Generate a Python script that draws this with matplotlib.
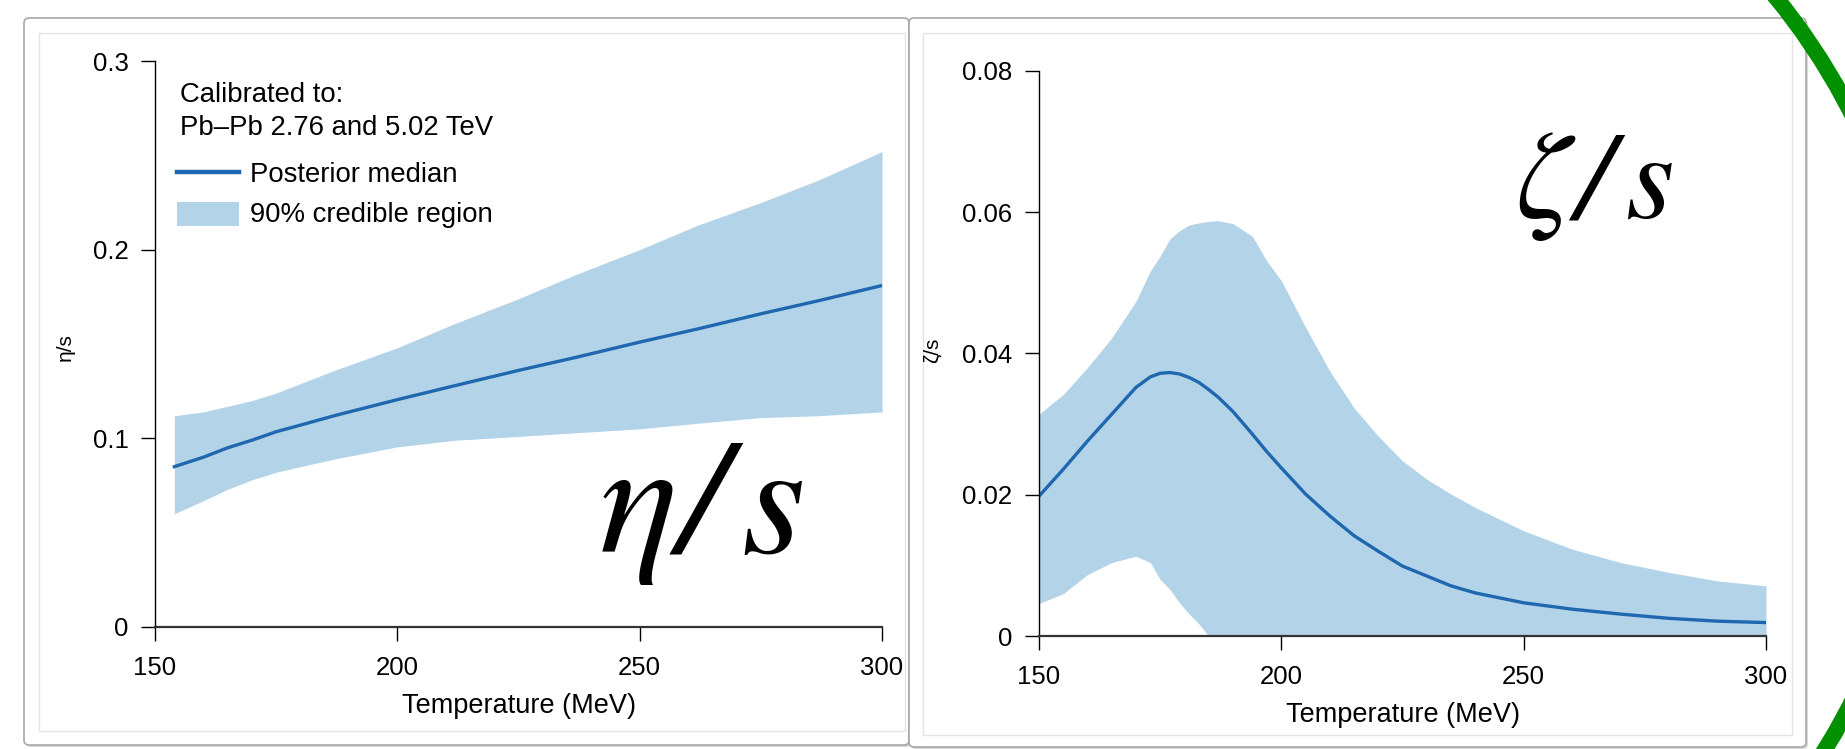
import matplotlib
matplotlib.use("Agg")
import matplotlib.pyplot as plt
import matplotlib.transforms as mtransforms
from matplotlib.patches import FancyBboxPatch, Arc, Rectangle
from matplotlib.lines import Line2D

plt.rcParams['font.family'] = ['Liberation Sans', 'DejaVu Sans']

# eta/s panel
eta_T = [154, 160, 165, 170, 175, 180, 187, 200, 212, 225, 237, 250, 262, 275, 287, 300]
eta_med = [0.085, 0.090, 0.095, 0.099, 0.1035, 0.107, 0.112, 0.1205, 0.128, 0.136,
           0.143, 0.151, 0.158, 0.166, 0.173, 0.181]
eta_hi = [0.112, 0.114, 0.117, 0.120, 0.124, 0.129, 0.136, 0.148, 0.161, 0.174,
          0.187, 0.200, 0.213, 0.225, 0.237, 0.252]
eta_lo = [0.060, 0.067, 0.073, 0.078, 0.082, 0.085, 0.089, 0.0955, 0.099, 0.101,
          0.103, 0.105, 0.108, 0.111, 0.112, 0.114]

# zeta/s panel
zeta_T = [150, 155, 160, 165, 170, 173, 175, 177, 179, 181, 183, 185, 187, 190, 194,
          197, 200, 205, 210, 215, 220, 225, 230, 235, 240, 250, 260, 270, 280, 290, 300]
zeta_med = [0.0198, 0.0236, 0.0276, 0.0314, 0.0352, 0.0367, 0.0372, 0.0373, 0.0371,
            0.0366, 0.0359, 0.0349, 0.0338, 0.0318, 0.0286, 0.0261, 0.0238, 0.0201,
            0.0170, 0.0142, 0.0120, 0.0099, 0.0085, 0.0071, 0.0061, 0.0047, 0.0038,
            0.0031, 0.0025, 0.0021, 0.0019]
zeta_hi = [0.0314, 0.0342, 0.0380, 0.0422, 0.0474, 0.0517, 0.0538, 0.0562, 0.0574,
           0.0582, 0.0585, 0.0587, 0.0588, 0.0584, 0.0566, 0.0531, 0.0503, 0.0437,
           0.0375, 0.0323, 0.0283, 0.0248, 0.0222, 0.0201, 0.0182, 0.0149, 0.0123,
           0.0104, 0.0090, 0.0078, 0.0071]
zeta_lo = [0.0046, 0.0060, 0.0087, 0.0104, 0.0113, 0.0104, 0.0080, 0.0066, 0.0047,
           0.0031, 0.0017, 0.0, 0.0, 0.0, 0.0, 0.0, 0.0, 0.0, 0.0, 0.0, 0.0, 0.0,
           0.0, 0.0, 0.0, 0.0, 0.0, 0.0, 0.0, 0.0, 0.0]

x_ticks = [150, 200, 250, 300]
eta_yticks = [0, 0.1, 0.2, 0.3]
eta_ylabels = ['0', '0.1', '0.2', '0.3']
zeta_yticks = [0, 0.02, 0.04, 0.06, 0.08]
zeta_ylabels = ['0', '0.02', '0.04', '0.06', '0.08']

band_color = '#b3d3e8'
line_color = '#1f68b0'

W, H = 1845, 749
fig = plt.figure(figsize=(W / 100, H / 100), dpi=100)
fig.patch.set_facecolor('white')

# pixel transform (origin top-left)
px = mtransforms.Affine2D().scale(1.0 / W, -1.0 / H).translate(0, 1) + fig.transFigure


def card(x0, y0, x1, y1, ix0, iy0, ix1, iy1, z):
    shadow = FancyBboxPatch((x0 + 2, y0 + 2), x1 - x0, y1 - y0,
                            boxstyle="round,pad=0,rounding_size=5",
                            transform=px, fc='#d8d8d8', ec='none', zorder=z)
    box = FancyBboxPatch((x0, y0), x1 - x0, y1 - y0,
                         boxstyle="round,pad=0,rounding_size=5",
                         transform=px, fc='white', ec='#a8a8a8', lw=1.2, zorder=z + 0.1)
    inner = Rectangle((ix0, iy0), ix1 - ix0, iy1 - iy0, transform=px,
                      fc='white', ec='#e4e4e4', lw=1.0, zorder=z + 0.2)
    for p in (shadow, box, inner):
        fig.patches.append(p)


card(24, 18, 909, 745, 39, 33, 905, 731, 0)
card(909, 18, 1806, 747, 923, 33, 1792, 735, 1)

# green decoration
fig.patches.append(Arc((1272, 408), 1300, 1300, theta1=-42, theta2=45,
                       transform=px, color='#009000', lw=11.5, zorder=5))


def style_axes(ax):
    for s in ('top', 'right'):
        ax.spines[s].set_visible(False)
    ax.spines['left'].set_linewidth(1.0)
    ax.spines['bottom'].set_linewidth(1.6)
    ax.spines['bottom'].set_color('#333333')
    ax.tick_params(axis='both', direction='out', length=10, width=1.0,
                   labelsize=18.5, colors='black')
    ax.tick_params(axis='y', pad=9)
    ax.tick_params(axis='x', pad=11)
    ax.set_xlim(150, 300)
    ax.set_xticks(x_ticks)
    ax.set_xlabel('Temperature (MeV)', fontsize=19.5, labelpad=9)
    ax.patch.set_alpha(0)


# left panel
ax1 = fig.add_axes([155 / W, 1 - 627 / H, 727 / W, 566 / H], zorder=2)
ax1.fill_between(eta_T, eta_lo, eta_hi, color=band_color, lw=0)
ax1.plot(eta_T, eta_med, color=line_color, lw=2.4)
ax1.set_ylim(0, 0.3)
ax1.set_yticks(eta_yticks)
ax1.set_yticklabels(eta_ylabels)
style_axes(ax1)
ax1.set_ylabel('η/s', fontsize=15)
ax1.yaxis.set_label_coords(-0.110, 0.495)

# legend block
leg_fs = 19.8
fig.text(180, 102, 'Calibrated to:', transform=px, fontsize=leg_fs, va='baseline', zorder=6)
fig.text(180, 135, 'Pb\u2013Pb 2.76 and 5.02 TeV', transform=px, fontsize=leg_fs,
         va='baseline', zorder=6)
fig.lines.append(Line2D([177, 239], [172, 172], transform=px, color=line_color,
                        lw=3.2, zorder=6))
fig.text(250, 182, 'Posterior median', transform=px, fontsize=leg_fs, va='baseline', zorder=6)
fig.patches.append(Rectangle((177, 202), 62, 24, transform=px, fc=band_color,
                             ec='none', zorder=6))
fig.text(250, 222, '90% credible region', transform=px, fontsize=leg_fs,
         va='baseline', zorder=6)

# right panel
ax2 = fig.add_axes([1039 / W, 1 - 636 / H, 727 / W, 565 / H], zorder=2)
ax2.fill_between(zeta_T, zeta_lo, zeta_hi, color=band_color, lw=0)
ax2.plot(zeta_T, zeta_med, color=line_color, lw=2.4)
ax2.set_ylim(0, 0.08)
ax2.set_yticks(zeta_yticks)
ax2.set_yticklabels(zeta_ylabels)
style_axes(ax2)
ax2.set_ylabel('ζ/s', fontsize=15)
ax2.yaxis.set_label_coords(-0.134, 0.506)

# big annotations, glyph by glyph
big = dict(transform=px, family='STIXGeneral', style='italic', ha='left',
           va='baseline', zorder=6)
for ch, x0 in (('η', 600), ('/', 680), ('s', 741)):
    fig.text(x0, 552, ch, fontsize=118, **big)
for ch, x0 in (('ζ', 1515), ('/', 1576), ('s', 1626)):
    fig.text(x0, 218, ch, fontsize=90, **big)

fig.savefig('out.png', dpi=100, facecolor='white')
